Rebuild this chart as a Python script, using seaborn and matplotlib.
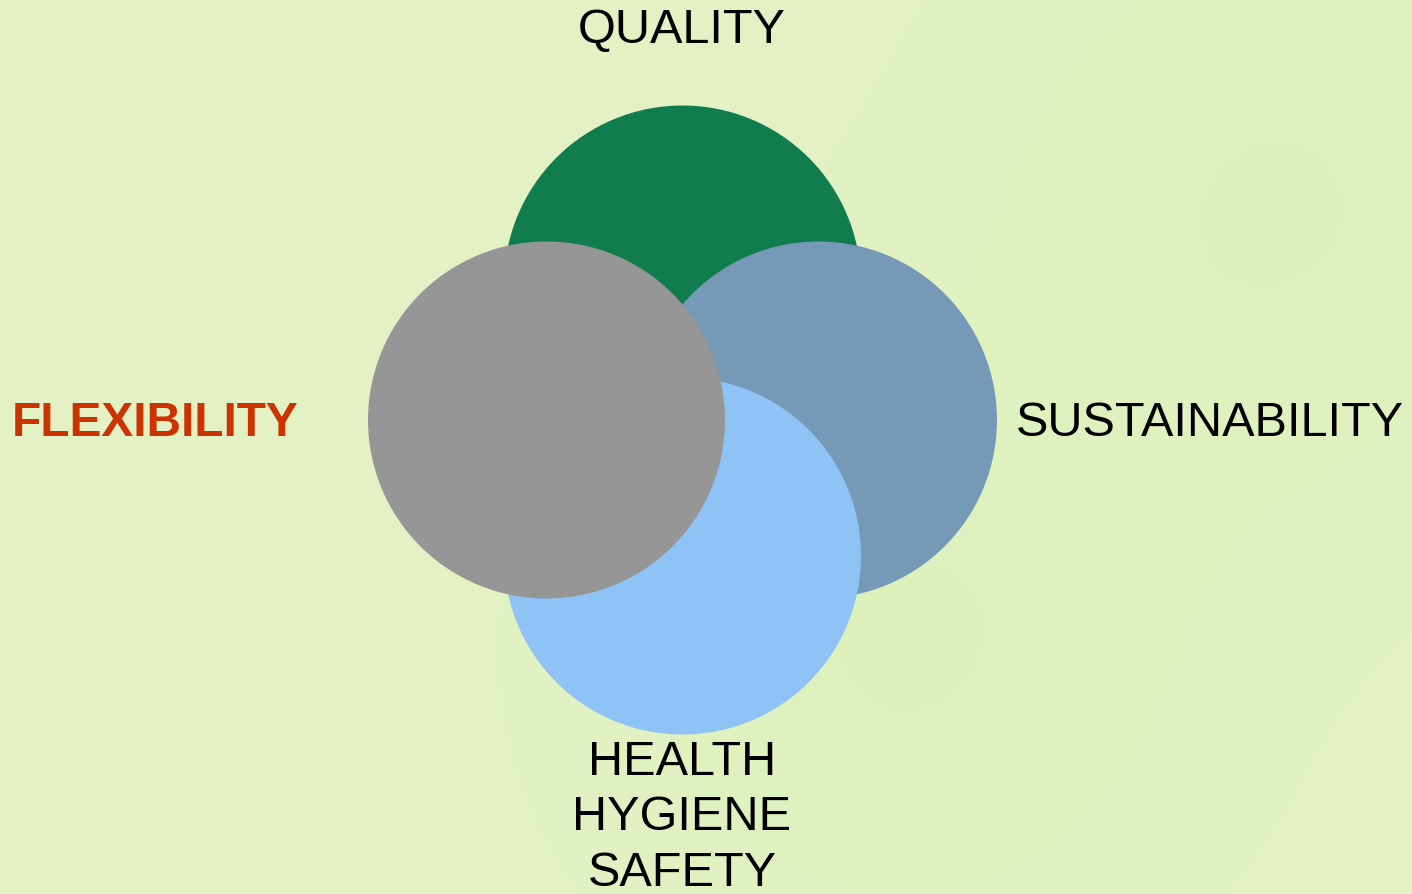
import numpy as np
import matplotlib
matplotlib.use("Agg")
import matplotlib.pyplot as plt
from matplotlib.patches import Circle
import seaborn as sns

sns.set_theme(style="white")
plt.rcParams['font.family'] = ['Liberation Sans', 'DejaVu Sans']

# Diagram content
labels = ["QUALITY", "SUSTAINABILITY", "HEALTH\nHYGIENE\nSAFETY", "FLEXIBILITY"]
circle_colors = ["#117c4e", "#7799b8", "#8fc3f6", "#969696"]
# circle centre offsets (in units of the spacing) : top, right, bottom, left
offset_x = [0, 1, 0, -1]
offset_y = [-1, 0, 1, 0]

W, H = 1412, 894
fig = plt.figure(figsize=(W / 100, H / 100), dpi=100)
ax = fig.add_axes([0, 0, 1, 1])
ax.set_xlim(0, W)
ax.set_ylim(H, 0)
ax.set_axis_off()

# background gradient
yy, xx = np.mgrid[0:H:4, 0:W:4]
base = np.array([0.894, 0.949, 0.776])
g = 0.012 * np.exp(-(((xx - 1280) / 300) ** 2 + ((yy - 200) / 300) ** 2)) \
    + 0.012 * np.exp(-(((xx - 900) / 300) ** 2 + ((yy - 650) / 300) ** 2))
img = np.dstack([base[0] - g * 2.0, base[1] - g * 0.4, base[2] - g * 3.0])
ax.imshow(np.clip(img, 0, 1), extent=[0, W, H, 0], aspect="auto", zorder=0,
          interpolation="bilinear")

cx, cy, step, r = 682.5, 420, 136, 178.5
for i, (dx, dy, col) in enumerate(zip(offset_x, offset_y, circle_colors)):
    ax.add_patch(Circle((cx + dx * step, cy + dy * step), r, facecolor=col,
                        edgecolor="none", zorder=2 + i))

ax.text(682, 31, labels[0], ha="center", va="center", fontsize=35, color="black")
ax.text(1210, 424, labels[1], ha="center", va="center", fontsize=35, color="black")
ax.text(682, 818, labels[2], ha="center", va="center", fontsize=35, color="black",
        linespacing=1.31)
ax.text(155, 424, labels[3], ha="center", va="center", fontsize=34.4, color="#cc3300",
        fontweight="bold")

fig.savefig("out.png", dpi=100)
